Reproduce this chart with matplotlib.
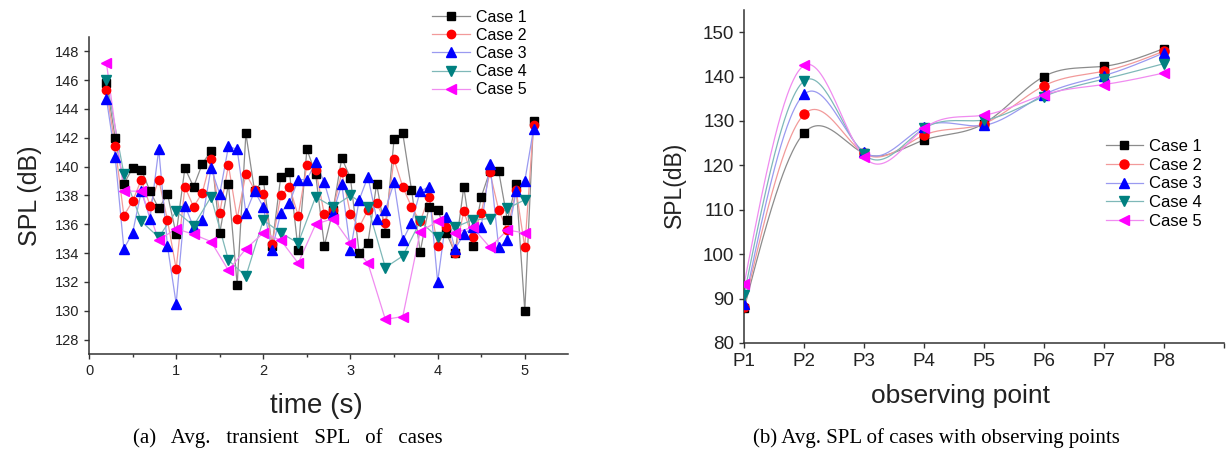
import numpy as np
import matplotlib
matplotlib.use("Agg")
import matplotlib.pyplot as plt

plt.rcParams['font.family'] = ['Liberation Sans', 'DejaVu Sans']

# ---------------- data: (a) transient SPL ----------------
times = [0.2, 0.3, 0.4, 0.5, 0.6, 0.7, 0.8, 0.9, 1.0, 1.1,
         1.2, 1.3, 1.4, 1.5, 1.6, 1.7, 1.8, 1.9, 2.0, 2.1,
         2.2, 2.3, 2.4, 2.5, 2.6, 2.7, 2.8, 2.9, 3.0, 3.1,
         3.2, 3.3, 3.4, 3.5, 3.6, 3.7, 3.8, 3.9, 4.0, 4.1,
         4.2, 4.3, 4.4, 4.5, 4.6, 4.7, 4.8, 4.9, 5.0, 5.1]
times_half = [0.2, 0.4, 0.6, 0.8, 1.0, 1.2, 1.4, 1.6, 1.8, 2.0,
              2.2, 2.4, 2.6, 2.8, 3.0, 3.2, 3.4, 3.6, 3.8, 4.0,
              4.2, 4.4, 4.6, 4.8, 5.0]

case1_t = [145.8, 142.0, 138.8, 139.9, 139.8, 138.3, 137.1, 138.1, 135.3, 139.9,
           138.6, 140.2, 141.1, 135.4, 138.8, 131.8, 142.3, 138.3, 139.1, 134.5,
           139.3, 139.6, 134.2, 141.2, 139.5, 134.5, 137.0, 140.6, 139.2, 134.0,
           134.7, 138.8, 135.4, 141.9, 142.3, 138.4, 134.1, 137.2, 137.0, 135.4,
           134.0, 138.6, 134.5, 137.9, 139.7, 139.7, 136.3, 138.8, 130.0, 143.2]
case2_t = [145.3, 141.4, 136.6, 137.6, 139.1, 137.3, 139.1, 136.3, 132.9, 138.6,
           137.2, 138.2, 140.5, 136.8, 140.1, 136.4, 139.5, 138.4, 138.1, 134.6,
           138.0, 138.6, 136.6, 140.1, 139.8, 136.7, 137.0, 139.6, 136.7, 135.8,
           137.0, 137.5, 136.1, 140.5, 138.6, 137.2, 136.2, 137.9, 134.5, 135.8,
           134.0, 136.9, 135.1, 136.8, 139.6, 137.0, 135.6, 138.4, 134.4, 142.9]
case3_t = [144.7, 140.7, 134.3, 135.4, 138.3, 136.4, 141.2, 134.5, 130.5, 137.3,
           135.8, 136.3, 139.9, 138.1, 141.4, 141.2, 136.8, 138.3, 137.2, 134.2,
           136.8, 137.5, 139.1, 139.1, 140.3, 138.9, 136.8, 138.8, 134.2, 137.7,
           139.3, 136.4, 137.0, 138.9, 134.9, 136.1, 138.3, 138.6, 132.0, 136.5,
           134.3, 135.3, 135.8, 135.8, 140.2, 134.4, 134.9, 138.3, 139.0, 142.6]
case4_t = [146.0, 139.5, 136.2, 135.1, 136.9, 135.9, 137.9, 133.5, 132.4, 136.3,
           135.4, 134.7, 137.9, 137.2, 138.0, 137.2, 133.0, 133.8, 136.2, 135.1,
           135.8, 136.3, 136.4, 137.1, 137.7]
case5_t = [147.2, 138.3, 138.3, 134.9, 135.7, 135.3, 134.8, 132.8, 134.3, 135.4,
           134.9, 133.3, 136.0, 136.4, 134.7, 133.3, 129.4, 129.6, 135.5, 136.2,
           135.4, 135.8, 134.4, 135.6, 135.4]

# ---------------- data: (b) SPL at observing points ----------------
points = ["P1", "P2", "P3", "P4", "P5", "P6", "P7", "P8"]
case1_p = [87.8, 127.3, 122.7, 125.7, 129.4, 140.0, 142.3, 146.3]
case2_p = [88.2, 131.5, 122.7, 126.8, 129.4, 137.9, 141.2, 145.7]
case3_p = [88.7, 136.0, 123.0, 128.7, 129.0, 135.9, 140.2, 145.3]
case4_p = [90.9, 139.0, 122.5, 128.3, 130.2, 135.5, 139.4, 142.9]
case5_p = [93.3, 142.5, 121.9, 128.3, 131.3, 135.9, 138.2, 140.8]

labels = ["Case 1", "Case 2", "Case 3", "Case 4", "Case 5"]
markers = ["s", "o", "^", "v", "<"]
msizes = [5.5, 6.0, 6.8, 6.8, 6.8]
mcolors = ["#000000", "#FF0000", "#0000FF", "#008080", "#FF00FF"]
lcolors = ["#8C8C8C", "#F29A9A", "#9A9AF0", "#7FB8B8", "#F08CF0"]


def natural_spline(x, y, xs):
    x = np.asarray(x, float)
    y = np.asarray(y, float)
    n = len(x)
    h = np.diff(x)
    A = np.zeros((n, n))
    b = np.zeros(n)
    A[0, 0] = 1.0
    A[-1, -1] = 1.0
    for i in range(1, n - 1):
        A[i, i - 1] = h[i - 1]
        A[i, i] = 2 * (h[i - 1] + h[i])
        A[i, i + 1] = h[i]
        b[i] = 3 * ((y[i + 1] - y[i]) / h[i] - (y[i] - y[i - 1]) / h[i - 1])
    c = np.linalg.solve(A, b)
    bb = (y[1:] - y[:-1]) / h - h * (2 * c[:-1] + c[1:]) / 3
    d = (c[1:] - c[:-1]) / (3 * h)
    idx = np.clip(np.searchsorted(x, xs) - 1, 0, n - 2)
    dx = xs - x[idx]
    return y[idx] + bb[idx] * dx + c[idx] * dx ** 2 + d[idx] * dx ** 3


fig = plt.figure(figsize=(12.26, 4.53), dpi=100)

# ---------------- left axes ----------------
axL = fig.add_axes([0.0726, 0.2185, 0.391, 0.700])
series_t = [(times, case1_t), (times, case2_t), (times, case3_t),
            (times_half, case4_t), (times_half, case5_t)]
for k, (tx, ty) in enumerate(series_t):
    axL.plot(tx, ty, color=lcolors[k], lw=0.9, zorder=2)
for k, (tx, ty) in enumerate(series_t):
    axL.plot(tx, ty, linestyle="none", marker=markers[k], ms=msizes[k],
             mfc=mcolors[k], mec=mcolors[k], zorder=3 + k)
handlesL = [plt.Line2D([], [], color=lcolors[k], lw=0.9, marker=markers[k],
                       ms=msizes[k], mfc=mcolors[k], mec=mcolors[k])
            for k in range(5)]
axL.set_xlim(0, 5.5)
axL.set_ylim(127, 149)
axL.set_xticks([0, 1, 2, 3, 4, 5])
axL.set_xticks([0.5, 1.5, 2.5, 3.5, 4.5], minor=True)
axL.set_yticks(list(range(128, 149, 2)))
for s in ["top", "right"]:
    axL.spines[s].set_visible(False)
for s in ["left", "bottom"]:
    axL.spines[s].set_linewidth(1.1)
    axL.spines[s].set_color("#333333")
axL.tick_params(axis="both", which="major", direction="out", length=3.5,
                width=1.0, labelsize=10.5, colors="#333333", labelcolor="#222222")
axL.tick_params(axis="x", which="minor", direction="out", length=2.2, width=1.0,
                colors="#333333")
axL.set_xlabel("time (s)", fontsize=20, color="#222222")
axL.xaxis.set_label_coords(0.475, -0.122)
axL.set_ylabel("SPL (dB)", fontsize=18, color="#222222", labelpad=9)
fig.legend(handlesL, labels, loc="upper left", bbox_to_anchor=(0.352, 0.979),
           frameon=False, fontsize=11.5, handlelength=2.4, handletextpad=0.4,
           labelspacing=0.2, borderpad=0, borderaxespad=0)

# ---------------- right axes ----------------
axR = fig.add_axes([0.607, 0.243, 0.391, 0.735])
xp = np.arange(len(points))
xs = np.linspace(0, len(points) - 1, 400)
series_p = [case1_p, case2_p, case3_p, case4_p, case5_p]
for k, yp in enumerate(series_p):
    axR.plot(xs, natural_spline(xp, yp, xs), color=lcolors[k], lw=0.9, zorder=2)
for k, yp in enumerate(series_p):
    axR.plot(xp, yp, linestyle="none", marker=markers[k], ms=msizes[k] + 0.5,
             mfc=mcolors[k], mec=mcolors[k], zorder=3 + k)
handlesR = [plt.Line2D([], [], color=lcolors[k], lw=0.9, marker=markers[k],
                       ms=msizes[k] + 0.5, mfc=mcolors[k], mec=mcolors[k])
            for k in range(5)]
axR.set_xlim(0, 8)
axR.set_ylim(80, 155)
axR.set_xticks(list(xp) + [8])
axR.set_xticklabels(points + [""])
axR.set_yticks(list(range(80, 151, 10)))
for s in ["top", "right"]:
    axR.spines[s].set_visible(False)
for s in ["left", "bottom"]:
    axR.spines[s].set_linewidth(1.1)
    axR.spines[s].set_color("#333333")
axR.tick_params(axis="both", which="major", direction="out", length=3.5,
                width=1.0, labelsize=13.5, colors="#333333", labelcolor="#222222")
axR.set_xlabel("observing point", fontsize=19, color="#222222")
axR.xaxis.set_label_coords(0.452, -0.124)
axR.set_ylabel("SPL(dB)", fontsize=16.5, color="#222222")
axR.yaxis.set_label_coords(-0.122, 0.475)
fig.legend(handlesR, labels, loc="upper left", bbox_to_anchor=(0.902, 0.693),
           frameon=False, fontsize=12, handlelength=2.2, handletextpad=0.4,
           labelspacing=0.22, borderpad=0, borderaxespad=0)

# ---------------- captions ----------------
fig.text(0.235, 0.033, "(a)   Avg.   transient   SPL   of   cases",
         family="Liberation Serif", fontsize=15, ha="center", va="center")
fig.text(0.7635, 0.033, "(b) Avg. SPL of cases with observing points",
         family="Liberation Serif", fontsize=15, ha="center", va="center")

fig.savefig("out.png", dpi=100)
